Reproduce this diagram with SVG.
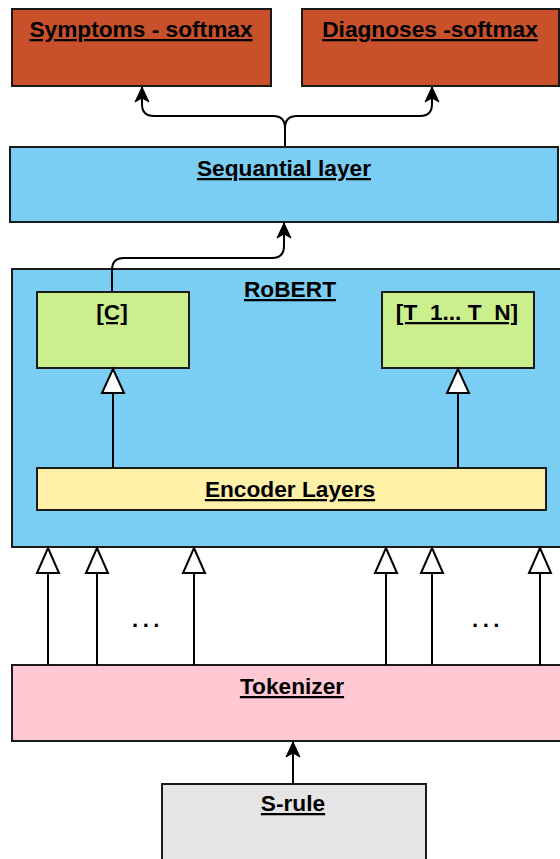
<svg xmlns="http://www.w3.org/2000/svg" width="560" height="859" viewBox="0 0 560 859">
  <defs>
    <!-- filled arrowhead, drawn pointing along +x so orient="auto" follows the path -->
    <marker id="solid" markerWidth="17" markerHeight="18" refX="16" refY="9" orient="auto" markerUnits="userSpaceOnUse" viewBox="0 0 17 18">
      <path d="M16,9 L1,2 L5,9 L1,16 Z" fill="#000" stroke="#000" stroke-width="1" stroke-linejoin="miter"/>
    </marker>
  </defs>
  <style>
    .box { stroke: #1a1a1a; stroke-width: 2; }
    .lbl { font-family: "Liberation Sans", Arial, sans-serif; font-weight: bold; font-size: 22.7px; text-anchor: middle; text-decoration: underline; fill: #000; }
    .dots { font-family: "Liberation Sans", Arial, sans-serif; font-weight: bold; font-size: 22px; text-anchor: middle; letter-spacing: 4.5px; fill: #000; }
    .wire { fill: none; stroke: #000; stroke-width: 2; }
    .hollow { fill: #fff; stroke: #000; stroke-width: 2; }
  </style>
  <rect width="560" height="859" fill="#fff"/>

  <g id="symptoms">
    <rect class="box" x="12" y="9" width="259" height="77" fill="#c8502b"/>
    <text class="lbl" x="141" y="37">Symptoms - softmax</text>
  </g>
  <g id="diagnoses">
    <rect class="box" x="302" y="9" width="257" height="77" fill="#c8502b"/>
    <text class="lbl" x="430" y="37">Diagnoses -softmax</text>
  </g>
  <g id="sequential">
    <rect class="box" x="10" y="147" width="548" height="75" fill="#7acef3"/>
    <text class="lbl" x="284" y="176">Sequantial layer</text>
  </g>
  <g id="robert">
    <rect class="box" x="12" y="269" width="560" height="278" fill="#7acef3"/>
    <text class="lbl" x="290" y="297">RoBERT</text>
  </g>
  <g id="cls">
    <rect class="box" x="37" y="292" width="152" height="76" fill="#cbef8c"/>
    <text class="lbl" x="112" y="320">[C]</text>
  </g>
  <g id="tokens">
    <rect class="box" x="382" y="292" width="152" height="76" fill="#cbef8c"/>
    <text class="lbl" x="457" y="320">[T_1... T_N]</text>
  </g>
  <g id="encoder">
    <rect class="box" x="37" y="468" width="509" height="42" fill="#fff0a8"/>
    <text class="lbl" x="290" y="497">Encoder Layers</text>
  </g>
  <g id="tokenizer">
    <rect class="box" x="12" y="665" width="560" height="76" fill="#ffc8d3"/>
    <text class="lbl" x="292" y="694">Tokenizer</text>
  </g>
  <g id="srule">
    <rect class="box" x="162" y="784" width="264" height="85" fill="#e5e5e5"/>
    <text class="lbl" x="293" y="811">S-rule</text>
  </g>

  <g id="connectors">
    <!-- sequential layer fans out to the two softmax heads -->
    <path class="wire" d="M285,147 L285,128 Q285,116 273,116 L154,116 Q142,116 142,104 L142,87" marker-end="url(#solid)"/>
    <path class="wire" d="M285,147 L285,128 Q285,116 297,116 L420,116 Q432,116 432,104 L432,87" marker-end="url(#solid)"/>
    <!-- [C] token feeds the sequential layer -->
    <path class="wire" d="M112,292 L112,270 Q112,258 124,258 L272,258 Q284,258 284,246 L284,223" marker-end="url(#solid)"/>
    <!-- S-rule into tokenizer -->
    <path class="wire" d="M293,784 L293,742" marker-end="url(#solid)"/>

    <!-- encoder to output tokens -->
    <line class="wire" x1="113" y1="468" x2="113" y2="393"/>
    <path class="hollow" d="M113,369 L124,393 L102,393 Z"/>
    <line class="wire" x1="458" y1="468" x2="458" y2="393"/>
    <path class="hollow" d="M458,369 L469,393 L447,393 Z"/>

    <!-- tokenizer to RoBERT -->
    <g>
      <line class="wire" x1="48" y1="665" x2="48" y2="573"/>
      <path class="hollow" d="M48,548 L59,573 L37,573 Z"/>
      <line class="wire" x1="97" y1="665" x2="97" y2="573"/>
      <path class="hollow" d="M97,548 L108,573 L86,573 Z"/>
      <line class="wire" x1="194" y1="665" x2="194" y2="573"/>
      <path class="hollow" d="M194,548 L205,573 L183,573 Z"/>
      <line class="wire" x1="386" y1="665" x2="386" y2="573"/>
      <path class="hollow" d="M386,548 L397,573 L375,573 Z"/>
      <line class="wire" x1="432" y1="665" x2="432" y2="573"/>
      <path class="hollow" d="M432,548 L443,573 L421,573 Z"/>
      <line class="wire" x1="540" y1="665" x2="540" y2="573"/>
      <path class="hollow" d="M540,548 L551,573 L529,573 Z"/>
    </g>
  </g>

  <text class="dots" x="148" y="627">...</text>
  <text class="dots" x="488" y="627">...</text>
</svg>
